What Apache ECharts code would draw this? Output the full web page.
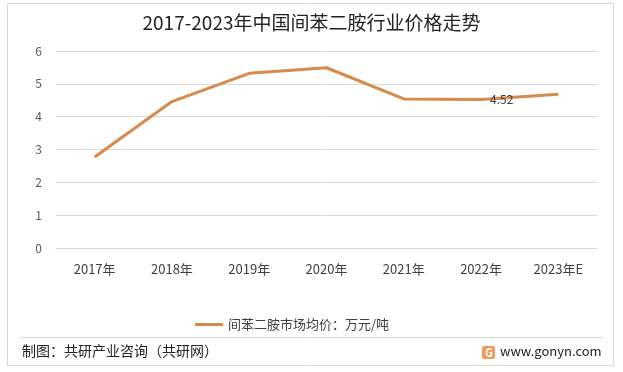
<!DOCTYPE html>
<html><head><meta charset="utf-8">
<script src="https://cdn.jsdelivr.net/npm/echarts@6/dist/echarts.min.js"></script>
<style>html,body{margin:0;padding:0;background:#fff}#c{width:623px;height:372px}</style>
</head><body><div id="c"></div>
<script>
const categories = ['2017年','2018年','2019年','2020年','2021年','2022年','2023年E'];
const priceValues = [2.77, 4.46, 5.32, 5.49, 4.54, 4.52, 4.68];
const yTicks = [0,1,2,3,4,5,6];
const labelIndex = 5;
const seriesName = '间苯二胺市场均价：万元/吨';
const titleText = '2017-2023年中国间苯二胺行业价格走势';
const sourceText = '制图：共研产业咨询（共研网）';
const siteText = 'www.gonyn.com';

const font = '"Microsoft YaHei","Noto Sans CJK SC",sans-serif';
const chart = echarts.init(document.getElementById('c'), null, {renderer:'canvas'});
chart.setOption({
  backgroundColor:'#fff',
  animation:false,
  textStyle:{fontFamily:font},
  title:{text:titleText,left:'center',top:8,textStyle:{fontSize:19,fontWeight:'normal',color:'#222',fontFamily:font}},
  grid:{left:56,right:26,top:51,bottom:124},
  legend:{data:[seriesName],left:190,top:313,icon:'rect',itemWidth:28,itemHeight:3,itemGap:4,
    textStyle:{fontSize:13,color:'#404040',fontFamily:font}},
  xAxis:{type:'category',data:categories,boundaryGap:true,
    axisLine:{lineStyle:{color:'#d9d9d9'}},axisTick:{show:false},
    axisLabel:{fontSize:13,color:'#404040',margin:15,fontFamily:font}},
  yAxis:{type:'value',min:yTicks[0],max:yTicks[yTicks.length-1],interval:1,
    axisLine:{show:false},axisTick:{show:false},
    splitLine:{lineStyle:{color:'#d9d9d9'}},
    axisLabel:{fontSize:12,color:'#595959',margin:14,fontFamily:font}},
  series:[{name:seriesName,type:'line',
    data:priceValues.map((v,i)=>i===labelIndex?{value:v,label:{show:true}}:v),
    showSymbol:true,symbol:'circle',symbolSize:0,
    lineStyle:{color:'#D68A4C',width:3},itemStyle:{color:'#D68A4C'},
    label:{show:false,position:'right',distance:9,fontSize:12,color:'#404040',formatter:p=>Number(p.value).toFixed(2)}}],
  graphic:[
    {type:'rect',shape:{x:7.5,y:3.5,width:606,height:362},style:{fill:'none',stroke:'#d9d9d9',lineWidth:1},silent:true},
    {type:'line',shape:{x1:20,y1:337.5,x2:603,y2:337.5},style:{stroke:'#d9d9d9',lineWidth:1}},
    {type:'text',left:22,top:344,style:{text:sourceText,fontSize:14,fill:'#222',fontFamily:font}},
    {type:'rect',shape:{x:482,y:346,width:13,height:13,r:2},style:{fill:'#F09A5C'}},
    {type:'text',x:485,y:347,style:{text:'G',fontSize:11,fontWeight:'bold',fill:'#fff',fontFamily:font}},
    {type:'text',left:500,top:345,style:{text:siteText,fontSize:13,fill:'#222',fontFamily:font}}
  ]
});
</script></body></html>
